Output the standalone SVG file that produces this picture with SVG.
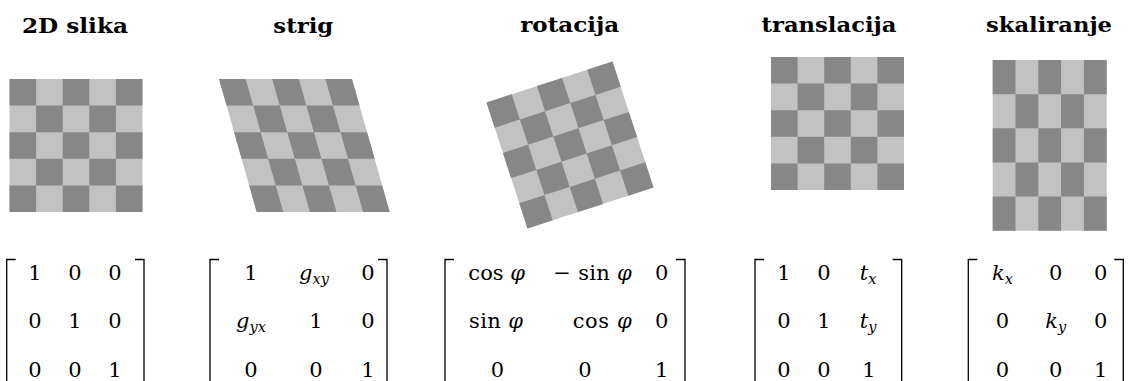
<svg xmlns="http://www.w3.org/2000/svg" xmlns:xlink="http://www.w3.org/1999/xlink" width="1137" height="381" viewBox="0 0 1137 381">
<style>
.title{font-family:"DejaVu Serif","Liberation Serif",serif;font-weight:bold;font-size:21px;fill:#000;text-anchor:middle}
.m{font-family:"DejaVu Serif","Liberation Serif",serif;font-size:21px;fill:#000;text-anchor:middle}
.e{text-anchor:end}
.i{font-style:italic}
.s{font-size:14.5px}
.br{fill:none;stroke:#000;stroke-width:1.3}
</style>
<defs>
<g id="board">
<rect x="0" y="0" width="5" height="5" fill="#c2c2c2"/>
<path fill="#878787" d="M0 0h1v1H0z M2 0h1v1H2z M4 0h1v1H4z M1 1h1v1H1z M3 1h1v1H3z M0 2h1v1H0z M2 2h1v1H2z M4 2h1v1H4z M1 3h1v1H1z M3 3h1v1H3z M0 4h1v1H0z M2 4h1v1H2z M4 4h1v1H4z"/>
</g>
</defs>
<rect width="1137" height="381" fill="#fff"/>

<g id="slika">
<text class="title" x="75" y="33" textLength="106" lengthAdjust="spacingAndGlyphs">2D slika</text>
<use xlink:href="#board" href="#board" transform="translate(9.5,79) scale(26.6)"/>
<g class="m">
<text x="35" y="280">1</text><text x="75" y="280">0</text><text x="115" y="280">0</text>
<text x="35" y="328.3">0</text><text x="75" y="328.3">1</text><text x="115" y="328.3">0</text>
<text x="35" y="376.7">0</text><text x="75" y="376.7">0</text><text x="115" y="376.7">1</text>
</g>
<path class="br" d="M15.7 259.5H6.7V390 M135 259.5H144V390"/>
</g>

<g id="strig">
<text class="title" x="303.3" y="33" textLength="60" lengthAdjust="spacingAndGlyphs">strig</text>
<use xlink:href="#board" href="#board" transform="matrix(26.6 0 7.54 26.6 219 79)"/>
<g class="m">
<text x="251" y="280">1</text><text x="314" y="280"><tspan class="i">g</tspan><tspan class="i s" dy="4">xy</tspan></text><text x="368" y="280">0</text>
<text x="251" y="328.3"><tspan class="i">g</tspan><tspan class="i s" dy="4">yx</tspan></text><text x="316" y="328.3">1</text><text x="368" y="328.3">0</text>
<text x="251" y="376.7">0</text><text x="316" y="376.7">0</text><text x="368" y="376.7">1</text>
</g>
<path class="br" d="M219 259.5H210V390 M378 259.5H387V390"/>
</g>

<g id="rotacija">
<text class="title" x="569.7" y="32" textLength="99" lengthAdjust="spacingAndGlyphs">rotacija</text>
<use xlink:href="#board" href="#board" transform="matrix(25.2 -8.2 8.2 25.2 486.5 102.5)"/>
<g class="m">
<text x="496.7" y="280" textLength="56.7">cos <tspan class="i">φ</tspan></text>
<text class="e" x="631.7" y="280" textLength="78.4">− sin <tspan class="i">φ</tspan></text>
<text x="661.7" y="280">0</text>
<text x="496" y="328.3" textLength="54">sin <tspan class="i">φ</tspan></text>
<text class="e" x="631.7" y="328.3" textLength="59">cos <tspan class="i">φ</tspan></text>
<text x="661.7" y="328.3">0</text>
<text x="497.5" y="376.7">0</text><text x="585" y="376.7">0</text><text x="661.7" y="376.7">1</text>
</g>
<path class="br" d="M454 259.5H445V390 M676 259.5H685V390"/>
</g>

<g id="translacija">
<text class="title" x="829" y="32" textLength="135" lengthAdjust="spacingAndGlyphs">translacija</text>
<use xlink:href="#board" href="#board" transform="translate(771,57) scale(26.6)"/>
<g class="m">
<text x="784" y="280">1</text><text x="824" y="280">0</text><text x="868" y="280"><tspan class="i">t</tspan><tspan class="i s" dy="4">x</tspan></text>
<text x="784" y="328.3">0</text><text x="824" y="328.3">1</text><text x="868" y="328.3"><tspan class="i">t</tspan><tspan class="i s" dy="4">y</tspan></text>
<text x="784" y="376.7">0</text><text x="824" y="376.7">0</text><text x="869" y="376.7">1</text>
</g>
<path class="br" d="M764 259.5H755V390 M892.7 259.5H901.7V390"/>
</g>

<g id="skaliranje">
<text class="title" x="1049" y="32" textLength="126" lengthAdjust="spacingAndGlyphs">skaliranje</text>
<use xlink:href="#board" href="#board" transform="matrix(22.8 0 0 34.14 992.7 60)"/>
<g class="m">
<text x="1002.5" y="280"><tspan class="i">k</tspan><tspan class="i s" dy="4">x</tspan></text><text x="1055.8" y="280">0</text><text x="1100.8" y="280">0</text>
<text x="1002.5" y="328.3">0</text><text x="1055.8" y="328.3"><tspan class="i">k</tspan><tspan class="i s" dy="4">y</tspan></text><text x="1100.8" y="328.3">0</text>
<text x="1002.5" y="376.7">0</text><text x="1055.8" y="376.7">0</text><text x="1100.8" y="376.7">1</text>
</g>
<path class="br" d="M977.3 259.5H968.3V390 M1114.3 259.5H1123.3V390"/>
</g>

<g id="connectors"></g>
</svg>
